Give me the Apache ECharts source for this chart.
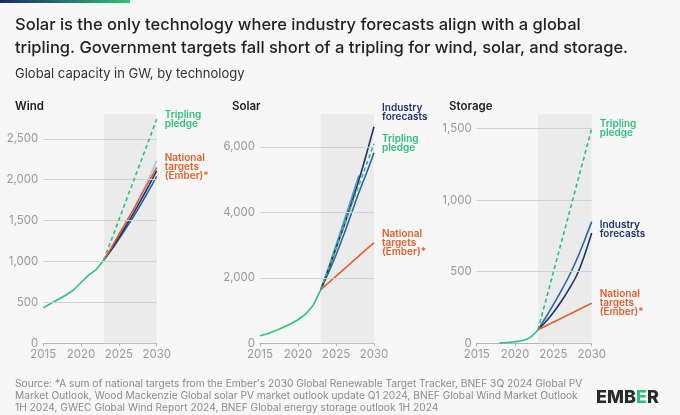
<!DOCTYPE html>
<html>
<head>
<meta charset="utf-8">
<script src="https://cdn.jsdelivr.net/npm/echarts@6/dist/echarts.min.js"></script>
<style>
  html, body { margin: 0; padding: 0; background: #f7f7f7; }
  #main { width: 680px; height: 415px; }
</style>
</head>
<body>
<div id="main"></div>
<script>
// years
var histYears = [2015, 2016, 2017, 2018, 2019, 2020, 2021, 2022, 2023];
var storageHistYears = [2018, 2019, 2020, 2021, 2022, 2023];
var forecastYears = [2023, 2024, 2025, 2026, 2027, 2028, 2029, 2030];
var solarShortYears = [2023, 2024, 2025, 2026, 2027, 2028];
var pledgeYears = [2023, 2030];

// wind (GW)
var windHist = [433, 487, 539, 591, 651, 744, 834, 902, 1017];
var windPledge = [1017, 2740];
var windNational = [1017, 1170, 1330, 1490, 1650, 1820, 1985, 2150];
var windLight = [1017, 1165, 1320, 1480, 1650, 1830, 2025, 2230];
var windNavy = [1017, 1150, 1295, 1445, 1600, 1765, 1935, 2110];
var windBlue = [1017, 1140, 1275, 1415, 1560, 1715, 1875, 2040];

// solar (GW)
var solarHist = [230, 290, 380, 480, 590, 720, 890, 1160, 1640];
var solarPledge = [1640, 6100];
var solarNational = [1640, 3080];
var solarNavy = [1640, 2250, 2900, 3550, 4250, 4980, 5780, 6620];
var solarBlue = [1640, 2150, 2700, 3300, 3950, 4600, 5200, 5820];
var solarLight = [1640, 2300, 3000, 3700, 4400, 5130];

// storage (GW)
var storageHist = [3, 6, 11, 20, 42, 95];
var storagePledge = [95, 1500];
var storageNational = [95, 280];
var storageBlue = [95, 180, 270, 365, 465, 580, 710, 850];
var storageNavy = [95, 150, 215, 290, 375, 470, 605, 770];

// y gridlines
var windTicks = [500, 1000, 1500, 2000, 2500];
var solarTicks = [2000, 4000, 6000];
var storageTicks = [500, 1000, 1500];
var yMax = [2800, 7000, 1600];
var yStep = [500, 2000, 500];

var GREEN = '#2cc27b', ORANGE = '#e3602b', NAVY = '#1f3468', BLUE = '#2f63a6', LIGHT = '#a6c8ea';
var FONT = 'Inter, "Noto Sans", sans-serif';

function pairs(xs, ys) {
    var out = [];
    for (var i = 0; i < ys.length; i++) out.push([xs[i], ys[i]]);
    return out;
}

function lineSeries(idx, xs, ys, color, opts) {
    opts = opts || {};
    var s = {
        type: 'line',
        xAxisIndex: idx,
        yAxisIndex: idx,
        data: pairs(xs, ys),
        showSymbol: false,
        symbol: 'none',
        smooth: opts.smooth ? 0.3 : false,
        lineStyle: { color: color, width: 1.6, type: opts.dashed ? [4, 3] : 'solid' },
        itemStyle: { color: color },
        z: opts.z || 3,
        silent: true
    };
    if (opts.label) {
        s.endLabel = {
            show: true,
            formatter: opts.label,
            color: color,
            fontFamily: FONT,
            fontSize: 10,
            fontWeight: 600,
            lineHeight: 9,
            distance: 8,
            offset: [0, opts.dy || 0]
        };
    }
    return s;
}

// background band + gridlines, hung on the history series
function decorate(s, idx, ticks) {
    s.markArea = {
        silent: true,
        itemStyle: { color: '#ebebeb' },
        data: [[{ xAxis: 2023, yAxis: 0 }, { xAxis: 2030, yAxis: yMax[idx] }]]
    };
    var lines = [];
    for (var i = 0; i < ticks.length; i++) lines.push({ yAxis: ticks[i] });
    s.markLine = {
        silent: true,
        symbol: ['none', 'none'],
        label: { show: false },
        lineStyle: { color: '#d2d2d2', type: 'solid', width: 1.2 },
        data: lines
    };
    return s;
}

var gridPos = [
    { left: 43.3, right: 523.3 },
    { left: 260, right: 306 },
    { left: 476.7, right: 88.3 }
];

var grids = [], xAxes = [], yAxes = [];
for (var g = 0; g < 3; g++) {
    grids.push({ left: gridPos[g].left, right: gridPos[g].right, top: 114.3, bottom: 71.7 });
    xAxes.push({
        type: 'value', gridIndex: g, min: 2015, max: 2030, interval: 5,
        axisLine: { show: true, lineStyle: { color: '#b5b5b5', width: 1.2 } },
        axisTick: { show: true, length: 3, lineStyle: { color: '#b5b5b5' } },
        splitLine: { show: false },
        axisLabel: {
            color: '#9a9a9a', fontFamily: FONT, fontSize: 11.5, margin: 5,
            formatter: function (v) { return String(v); }
        }
    });
    yAxes.push({
        type: 'value', gridIndex: g, min: 0, max: yMax[g], interval: yStep[g],
        axisLine: { show: false },
        axisTick: { show: false },
        splitLine: { show: false },
        axisLabel: {
            color: '#9a9a9a', fontFamily: FONT, fontSize: 11.5, margin: 5, showMaxLabel: false,
            formatter: function (v) { return v.toLocaleString('en-US'); }
        }
    });
}

var series = [
    // wind
    decorate(lineSeries(0, histYears, windHist, GREEN), 0, windTicks),
    lineSeries(0, forecastYears, windLight, LIGHT, { smooth: true }),
    lineSeries(0, forecastYears, windBlue, BLUE, { smooth: true }),
    lineSeries(0, forecastYears, windNavy, NAVY, { smooth: true }),
    lineSeries(0, forecastYears, windNational, ORANGE, { smooth: true, z: 4, label: 'National\ntargets\n(Ember)*' }),
    lineSeries(0, pledgeYears, windPledge, GREEN, { dashed: true, z: 5, label: 'Tripling\npledge' }),
    // solar
    decorate(lineSeries(1, histYears, solarHist, GREEN), 1, solarTicks),
    lineSeries(1, solarShortYears, solarLight, '#5a8fd0', { smooth: true }),
    lineSeries(1, forecastYears, solarBlue, BLUE, { smooth: true }),
    lineSeries(1, forecastYears, solarNavy, NAVY, { smooth: true, label: 'Industry\nforecasts', dy: -14 }),
    lineSeries(1, pledgeYears, solarNational, ORANGE, { label: 'National\ntargets\n(Ember)*' }),
    lineSeries(1, pledgeYears, solarPledge, GREEN, { dashed: true, z: 5, label: 'Tripling\npledge' }),
    // storage
    decorate(lineSeries(2, storageHistYears, storageHist, GREEN, { smooth: true }), 2, storageTicks),
    lineSeries(2, forecastYears, storageBlue, BLUE, { smooth: true }),
    lineSeries(2, forecastYears, storageNavy, NAVY, { smooth: true, label: 'Industry\nforecasts', dy: -4 }),
    lineSeries(2, pledgeYears, storageNational, ORANGE, { label: 'National\ntargets\n(Ember)*' }),
    lineSeries(2, pledgeYears, storagePledge, GREEN, { dashed: true, z: 5, label: 'Tripling\npledge' })
];

var myChart = echarts.init(document.getElementById('main'));
var option = {
    backgroundColor: '#f7f7f7',
    animation: false,
    textStyle: { fontFamily: FONT },
    title: [
        {
            text: 'Solar is the only technology where industry forecasts align with a global\ntripling. Government targets fall short of a tripling for wind, solar, and storage.',
            left: 10, top: 9,
            textStyle: { color: '#222', fontFamily: FONT, fontSize: 16.5, fontWeight: 500, lineHeight: 23 }
        },
        {
            text: 'Global capacity in GW, by technology',
            left: 10, top: 63,
            textStyle: { color: '#333', fontFamily: FONT, fontSize: 13, fontWeight: 400 }
        },
        { text: 'Wind', left: 10, top: 96, textStyle: { color: '#222', fontFamily: FONT, fontSize: 11.5, fontWeight: 600 } },
        { text: 'Solar', left: 227, top: 96, textStyle: { color: '#222', fontFamily: FONT, fontSize: 11.5, fontWeight: 600 } },
        { text: 'Storage', left: 444, top: 96, textStyle: { color: '#222', fontFamily: FONT, fontSize: 11.5, fontWeight: 600 } },
        {
            text: 'Source: *A sum of national targets from the Ember\'s 2030 Global Renewable Target Tracker, BNEF 3Q 2024 Global PV\nMarket Outlook, Wood Mackenzie Global solar PV market outlook update Q1 2024, BNEF Global Wind Market Outlook\n1H 2024, GWEC Global Wind Report 2024, BNEF Global energy storage outlook 1H 2024',
            left: 10, top: 373,
            textStyle: { color: '#8c8c8c', fontFamily: FONT, fontSize: 10.2, fontWeight: 400, lineHeight: 12 }
        },
        {
            text: '{d|EMB}{g|E}{d|R}',
            left: 591, top: 384,
            textStyle: {
                rich: {
                    d: { color: '#2a2a2a', fontFamily: FONT, fontSize: 18, fontWeight: 800 },
                    g: { color: GREEN, fontFamily: FONT, fontSize: 18, fontWeight: 800 }
                }
            }
        }
    ],
    graphic: [
        {
            type: 'rect',
            shape: { x: 0, y: 0, width: 130, height: 3 },
            style: {
                fill: new echarts.graphic.LinearGradient(0, 0, 1, 0, [
                    { offset: 0, color: '#1c2a5e' },
                    { offset: 1, color: '#2cc27b' }
                ])
            }
        }
    ],
    grid: grids,
    xAxis: xAxes,
    yAxis: yAxes,
    series: series
};
myChart.setOption(option);
</script>
</body>
</html>
